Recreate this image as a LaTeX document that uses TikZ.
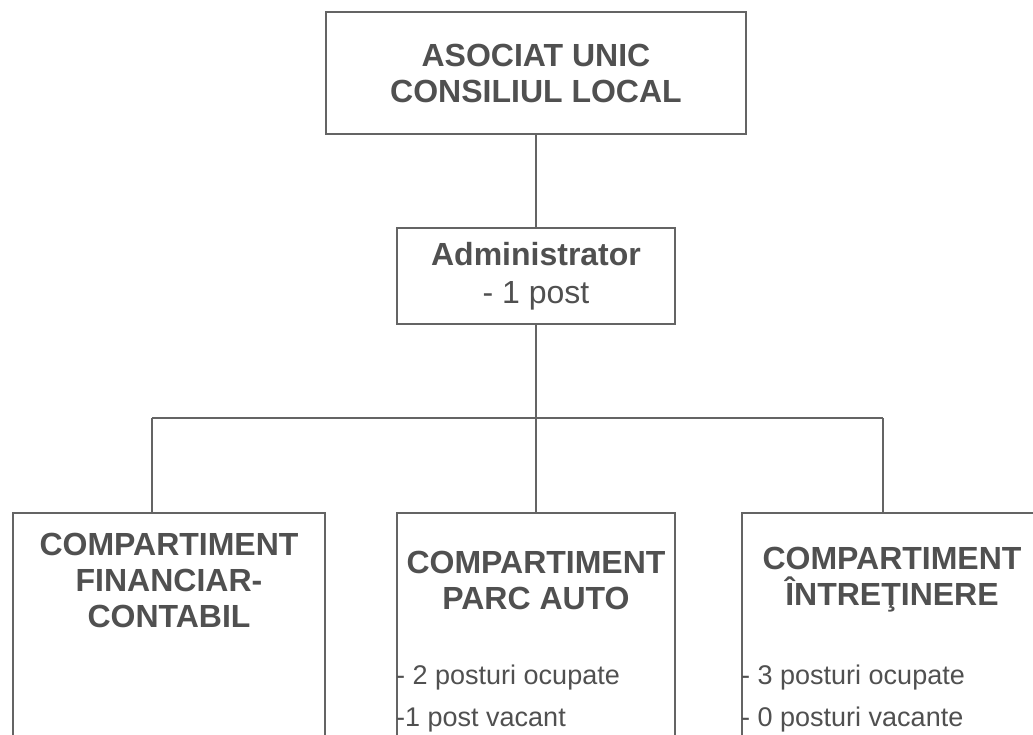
\documentclass[tikz,border=0pt]{standalone}
\usepackage{fontspec}
\setmainfont{Liberation Sans}
\usetikzlibrary{positioning}
\definecolor{inkgray}{RGB}{80,80,80}
\definecolor{linegray}{RGB}{100,100,100}

\begin{document}
\begin{tikzpicture}[x=1pt, y=-1pt,
    box/.style={draw=linegray, line width=2pt, inner sep=0pt},
    title/.style={text=inkgray, font=\fontsize{32}{36}\selectfont\bfseries, align=center},
    item/.style={text=inkgray, font=\fontsize{27}{32}\selectfont, anchor=west, inner sep=0pt},
    link/.style={draw=linegray, line width=1.5pt}]
  \clip (0,0) rectangle (1033,735);
  \fill[white] (0,0) rectangle (1033,735);

  % upper levels
  \node[box, title, line width=2.5pt, minimum width=420, minimum height=122] (asoc) at (536,73)
    {ASOCIAT UNIC\\CONSILIUL LOCAL};
  \node[box, title, font=\fontsize{32}{38}\selectfont\bfseries,
        minimum width=278, minimum height=95] (admin) at (536,276)
    {Administrator\\\mdseries - 1 post};

  % compartments
  \node[box, anchor=north, minimum width=312, minimum height=260] (fin) at (169,512) {};
  \node[box, anchor=north, minimum width=278, minimum height=260] (parc) at (536,512) {};
  \node[box, anchor=north, minimum width=300, minimum height=260] (intr) at (892,512) {};

  \node[title] (fint) at (169,580) {COMPARTIMENT\\FINANCIAR-\\CONTABIL};
  \node[title] (parct) at (536,580) {COMPARTIMENT\\PARC AUTO};
  \node[title] (intrt) at (892,580) {COMPARTIMENT\\ÎNTREŢINERE};

  \node[item] (parc1) at (parc.north west |- 0,678) {- 2 posturi ocupate};
  \node[item] (parc2) at (parc.north west |- 0,720) {-1 post vacant};
  \node[item] (intr1) at (intr.north west |- 0,678) {- 3 posturi ocupate};
  \node[item] (intr2) at (intr.north west |- 0,720) {- 0 posturi vacante};

  % connectors
  \draw[link] (asoc) -- (admin);
  \coordinate (bus) at (536,418);
  \draw[link] (admin) -- (bus);
  \foreach \x/\n [count=\i] in {152/fin, 536/parc, 883/intr} {
    \coordinate (j\i) at (\x,418);
    \draw[link] (j\i) -- (j\i |- \n.north);
  }
  \draw[link] (j1) -- (j3);
\end{tikzpicture}
\end{document}
